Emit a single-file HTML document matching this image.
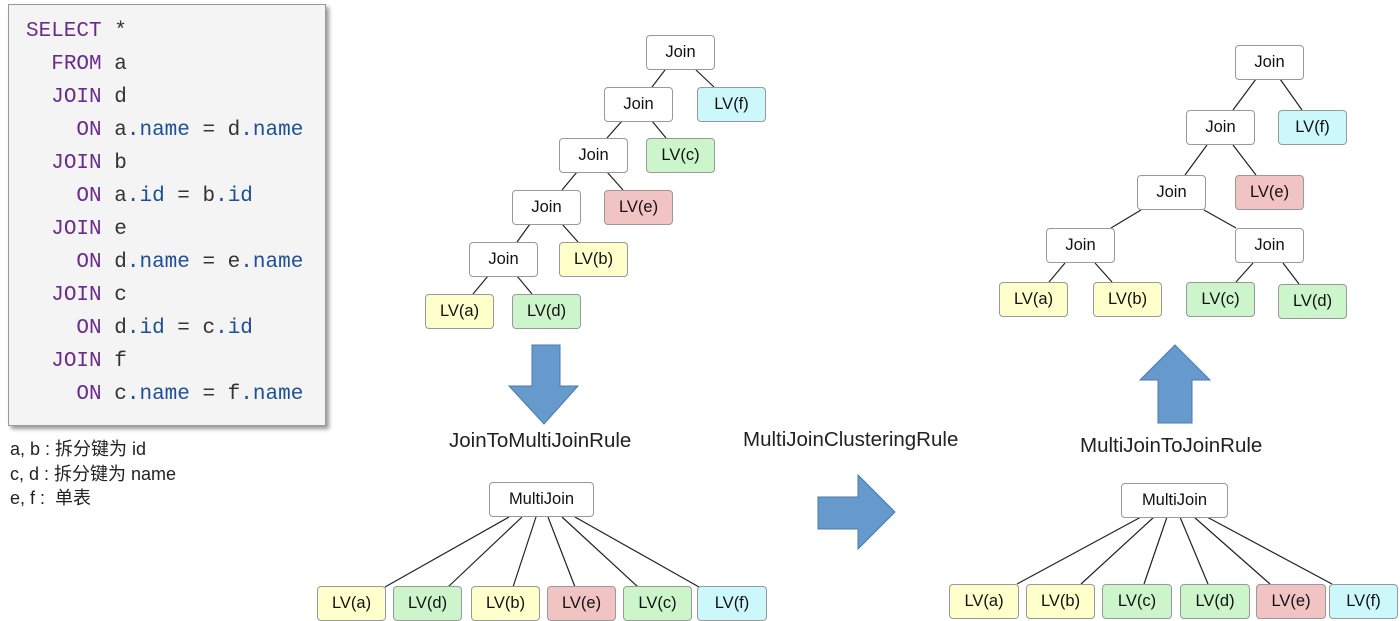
<!DOCTYPE html>
<html><head><meta charset="utf-8"><style>
body{margin:0;width:1400px;height:621px;background:#fff;position:relative;overflow:hidden;font-family:"Liberation Sans","Noto Sans CJK SC",sans-serif}
.code{position:absolute;left:8px;top:4px;width:316px;height:420px;background:#f4f4f4;border:1px solid #999;box-shadow:3px 3px 4px #999}
.l{position:absolute;font-family:"Liberation Mono",monospace;font-size:21px;color:#333;white-space:pre}
.k{color:#6b2b8c}.b{color:#1c4f96}
.n{position:absolute;box-sizing:border-box;border:1px solid #999;border-radius:4px;background:#fff;font-size:16.5px;color:#111;display:flex;align-items:center;justify-content:center;height:35px;width:69px}
.y{background:#ffffcc}.g{background:#ccf5cc}.r{background:#f2c3c3}.c{background:#ccf8fc}
.t{position:absolute;font-size:20.5px;color:#222;white-space:nowrap}
.note{position:absolute;left:10px;font-size:18px;color:#222;white-space:pre}
</style></head><body>
<div class="code"></div>
<div class="l" style="left:26px;top:20px"><span class="k">SELECT</span> *</div>
<div class="l" style="left:26px;top:53px">  <span class="k">FROM</span> a</div>
<div class="l" style="left:26px;top:86px">  <span class="k">JOIN</span> d</div>
<div class="l" style="left:26px;top:119px">    <span class="k">ON</span> a<span class="b">.name</span> = d<span class="b">.name</span></div>
<div class="l" style="left:26px;top:152px">  <span class="k">JOIN</span> b</div>
<div class="l" style="left:26px;top:185px">    <span class="k">ON</span> a<span class="b">.id</span> = b<span class="b">.id</span></div>
<div class="l" style="left:26px;top:218px">  <span class="k">JOIN</span> e</div>
<div class="l" style="left:26px;top:251px">    <span class="k">ON</span> d<span class="b">.name</span> = e<span class="b">.name</span></div>
<div class="l" style="left:26px;top:284px">  <span class="k">JOIN</span> c</div>
<div class="l" style="left:26px;top:317px">    <span class="k">ON</span> d<span class="b">.id</span> = c<span class="b">.id</span></div>
<div class="l" style="left:26px;top:350px">  <span class="k">JOIN</span> f</div>
<div class="l" style="left:26px;top:383px">    <span class="k">ON</span> c<span class="b">.name</span> = f<span class="b">.name</span></div>
<div class="note" style="top:435px">a, b : 拆分键为 id</div>
<div class="note" style="top:460px">c, d : 拆分键为 name</div>
<div class="note" style="top:484px">e, f :  单表</div>

<svg width="1400" height="621" style="position:absolute;left:0;top:0" stroke="#222" stroke-width="1.2">
<line x1="665" y1="70" x2="652" y2="87"/><line x1="696" y1="70" x2="714" y2="87"/>
<line x1="622" y1="121" x2="607" y2="138"/><line x1="652" y1="121" x2="666" y2="138"/>
<line x1="577" y1="172" x2="562" y2="190"/><line x1="607" y1="172" x2="623" y2="190"/>
<line x1="530" y1="224" x2="517" y2="242"/><line x1="562" y1="224" x2="578" y2="242"/>
<line x1="488" y1="276" x2="473" y2="294"/><line x1="517" y1="276" x2="532" y2="294"/>
<line x1="1256" y1="79" x2="1233" y2="110"/><line x1="1280" y1="79" x2="1302" y2="110"/>
<line x1="1207" y1="145" x2="1185" y2="175"/><line x1="1233" y1="145" x2="1256" y2="175"/>
<line x1="1141" y1="210" x2="1111" y2="228"/><line x1="1204" y1="210" x2="1236" y2="228"/>
<line x1="1065" y1="263" x2="1049" y2="282"/><line x1="1095" y1="263" x2="1112" y2="282"/>
<line x1="1253" y1="263" x2="1236" y2="282"/><line x1="1283" y1="263" x2="1299" y2="284"/>
<line x1="509" y1="517" x2="385" y2="587"/><line x1="522" y1="517" x2="448" y2="587"/><line x1="536" y1="517" x2="513" y2="587"/><line x1="548" y1="517" x2="575" y2="587"/><line x1="562" y1="517" x2="638" y2="587"/><line x1="575" y1="517" x2="699" y2="587"/>
<line x1="1141" y1="517" x2="1017" y2="584"/><line x1="1154" y1="517" x2="1081" y2="584"/><line x1="1167" y1="517" x2="1144" y2="584"/><line x1="1180" y1="517" x2="1208" y2="584"/><line x1="1194" y1="517" x2="1270" y2="584"/><line x1="1207" y1="517" x2="1332" y2="584"/>
<g fill="#6699cc" stroke="#4a7ab0" stroke-width="1">
<polygon points="532,345 560,345 560,386 578,386 544,424 509,386 532,386"/>
<polygon points="818,497 858,497 858,475 895,512 858,549 858,529 818,529"/>
<polygon points="1175,345 1210,380 1192,380 1192,423 1158,423 1158,380 1140,380"/>
</g>
</svg>

<div class="n" style="left:646px;top:35px">Join</div>
<div class="n" style="left:604px;top:87px">Join</div><div class="n c" style="left:697px;top:87px">LV(f)</div>
<div class="n" style="left:559px;top:138px">Join</div><div class="n g" style="left:646px;top:138px">LV(c)</div>
<div class="n" style="left:512px;top:190px">Join</div><div class="n r" style="left:604px;top:190px">LV(e)</div>
<div class="n" style="left:469px;top:242px">Join</div><div class="n y" style="left:559px;top:242px">LV(b)</div>
<div class="n y" style="left:425px;top:294px">LV(a)</div><div class="n g" style="left:512px;top:294px">LV(d)</div>

<div class="n" style="left:1235px;top:45px">Join</div>
<div class="n" style="left:1186px;top:110px">Join</div><div class="n c" style="left:1278px;top:110px">LV(f)</div>
<div class="n" style="left:1137px;top:175px">Join</div><div class="n r" style="left:1235px;top:175px">LV(e)</div>
<div class="n" style="left:1046px;top:228px">Join</div><div class="n" style="left:1235px;top:228px">Join</div>
<div class="n y" style="left:999px;top:282px">LV(a)</div><div class="n y" style="left:1093px;top:282px">LV(b)</div>
<div class="n g" style="left:1186px;top:282px">LV(c)</div><div class="n g" style="left:1278px;top:284px">LV(d)</div>

<div class="t" style="left:449px;top:429px">JoinToMultiJoinRule</div>
<div class="t" style="left:743px;top:428px">MultiJoinClusteringRule</div>
<div class="t" style="left:1080px;top:434px">MultiJoinToJoinRule</div>

<div class="n" style="left:489px;top:482px;width:105px">MultiJoin</div>
<div class="n y" style="left:317px;top:586px">LV(a)</div><div class="n g" style="left:393px;top:586px">LV(d)</div>
<div class="n y" style="left:471px;top:586px">LV(b)</div><div class="n r" style="left:547px;top:586px">LV(e)</div>
<div class="n g" style="left:623px;top:586px">LV(c)</div><div class="n c" style="left:697px;top:586px;width:70px">LV(f)</div>

<div class="n" style="left:1121px;top:483px;width:107px">MultiJoin</div>
<div class="n y" style="left:949px;top:584px;width:70px">LV(a)</div><div class="n y" style="left:1026px;top:584px">LV(b)</div>
<div class="n g" style="left:1102px;top:584px;width:70px">LV(c)</div><div class="n g" style="left:1180px;top:584px;width:70px">LV(d)</div>
<div class="n r" style="left:1256px;top:584px;width:70px">LV(e)</div><div class="n c" style="left:1329px;top:584px">LV(f)</div>
</body></html>
